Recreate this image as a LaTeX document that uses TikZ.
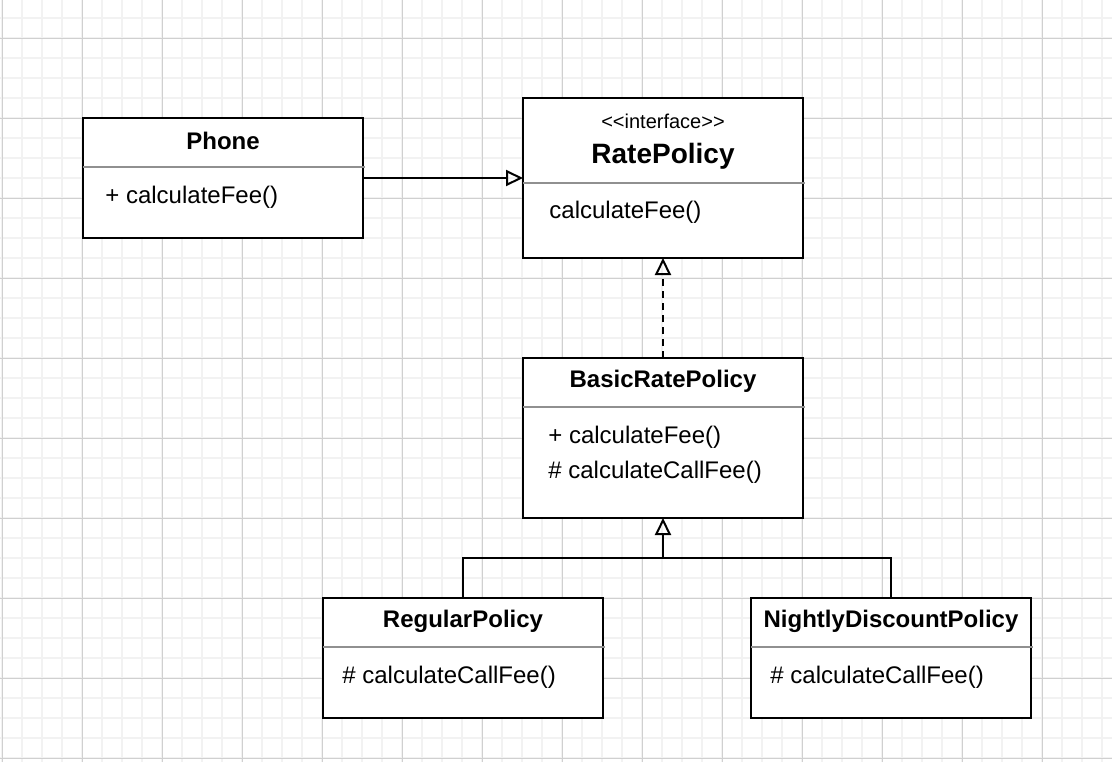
\documentclass[tikz,border=0pt]{standalone}
\usepackage{fontspec}
\setmainfont{Liberation Sans}
\usepackage{tikz}
\usetikzlibrary{arrows.meta, positioning}
\definecolor{gridminor}{HTML}{F2F2F2}
\definecolor{gridmajor}{HTML}{D0D0D0}
\definecolor{divgray}{HTML}{909090}
\tikzstyle{classbox} = [rectangle, draw=black, line width=1pt, fill=white,
    minimum width=140pt, inner sep=0pt, outer sep=0pt]
\tikzstyle{classtitle} = [inner sep=0pt, font=\fontsize{12}{14}\selectfont\bfseries]
\tikzstyle{member} = [anchor=west, inner sep=0pt, font=\fontsize{12}{14}\selectfont]
\tikzstyle{divider} = [draw=divgray, line width=1pt]
\tikzstyle{arrow} = [line width=1pt, -{Triangle[open, length=8.5pt, width=8pt]}]

\begin{document}
\begin{tikzpicture}
            % Background grid
            \useasboundingbox (0pt,0pt) rectangle (556pt,-381pt);
            \begin{scope}[shift={(1pt,-19pt)}]
            \draw[gridminor, line width=1pt, step=10pt] (-1pt,19pt) grid (555pt,-362pt);
            \draw[gridmajor, line width=0.5pt, step=40pt] (-1pt,19pt) grid (555pt,-362pt);
            \end{scope}
            % Classes
            \node[classbox, minimum height=80pt] (ratepolicy) at (331.5pt,-89pt) {};
            \node[classbox, minimum height=60pt, left=80pt of ratepolicy] (phone) {};
            \node[classbox, minimum height=80pt, below=50pt of ratepolicy] (basic) {};
            \node[classbox, minimum height=60pt, below=40pt of basic,
            xshift=-100pt] (regular) {};
            \node[classbox, minimum height=60pt, below=40pt of basic,
            xshift=114pt] (nightly) {};
            % Titles
            \node[classtitle] (phonetitle) at ([yshift=-11.5pt]phone.north) {Phone};
            \node[inner sep=0pt, font=\fontsize{10}{12}\selectfont] (ratestereo)
            at ([yshift=-11.5pt]ratepolicy.north) {<\kern0pt<interface>\kern0pt>};
            \node[classtitle, font=\fontsize{14}{16}\selectfont\bfseries] (ratetitle)
            at ([yshift=-29pt]ratepolicy.north) {RatePolicy};
            \node[classtitle] (basictitle) at ([yshift=-11.5pt]basic.north) {BasicRatePolicy};
            \node[classtitle] (regulartitle) at ([yshift=-11.5pt]regular.north) {RegularPolicy};
            \node[classtitle] (nightlytitle) at ([yshift=-11.5pt]nightly.north) {NightlyDiscountPolicy};
            % Dividers
            \draw[divider] ([yshift=-24.5pt]phone.north west) -- ([xshift=1pt, yshift=-24.5pt]phone.north east);
            \draw[divider] ([yshift=-42.5pt]ratepolicy.north west) -- ([xshift=1pt, yshift=-42.5pt]ratepolicy.north east);
            \draw[divider] ([yshift=-24.5pt]basic.north west) -- ([xshift=1pt, yshift=-24.5pt]basic.north east);
            \draw[divider] ([yshift=-24.5pt]regular.north west) -- ([xshift=1pt, yshift=-24.5pt]regular.north east);
            \draw[divider] ([yshift=-24.5pt]nightly.north west) -- ([xshift=1pt, yshift=-24.5pt]nightly.north east);
            % Members
            \node[member] (phonefee) at ([xshift=11pt, yshift=-39.5pt]phone.north west) {+ calculateFee()};
            \node[member] (ratefee) at ([xshift=13pt, yshift=-57pt]ratepolicy.north west) {calculateFee()};
            \node[member] (basicfee) at ([xshift=12.5pt, yshift=-39.5pt]basic.north west) {+ calculateFee()};
            \node[member] (basiccallfee) at ([xshift=12.5pt, yshift=-57pt]basic.north west) {\# calculateCallFee()};
            \node[member] (regularcallfee) at ([xshift=9.5pt, yshift=-39.5pt]regular.north west) {\# calculateCallFee()};
            \node[member] (nightlycallfee) at ([xshift=9.5pt, yshift=-39.5pt]nightly.north west) {\# calculateCallFee()};
            % Arrows
            \coordinate (join) at ([yshift=-20pt]basic.south);
            \draw[arrow] (phone) -- (ratepolicy);
            \draw[arrow, dash pattern=on 3.5pt off 2.5pt] (basic) -- (ratepolicy);
            \draw[arrow] (regular) |- (join) -- (basic);
            \draw[line width=1pt] (nightly) |- (join);
        \end{tikzpicture}
\end{document}
